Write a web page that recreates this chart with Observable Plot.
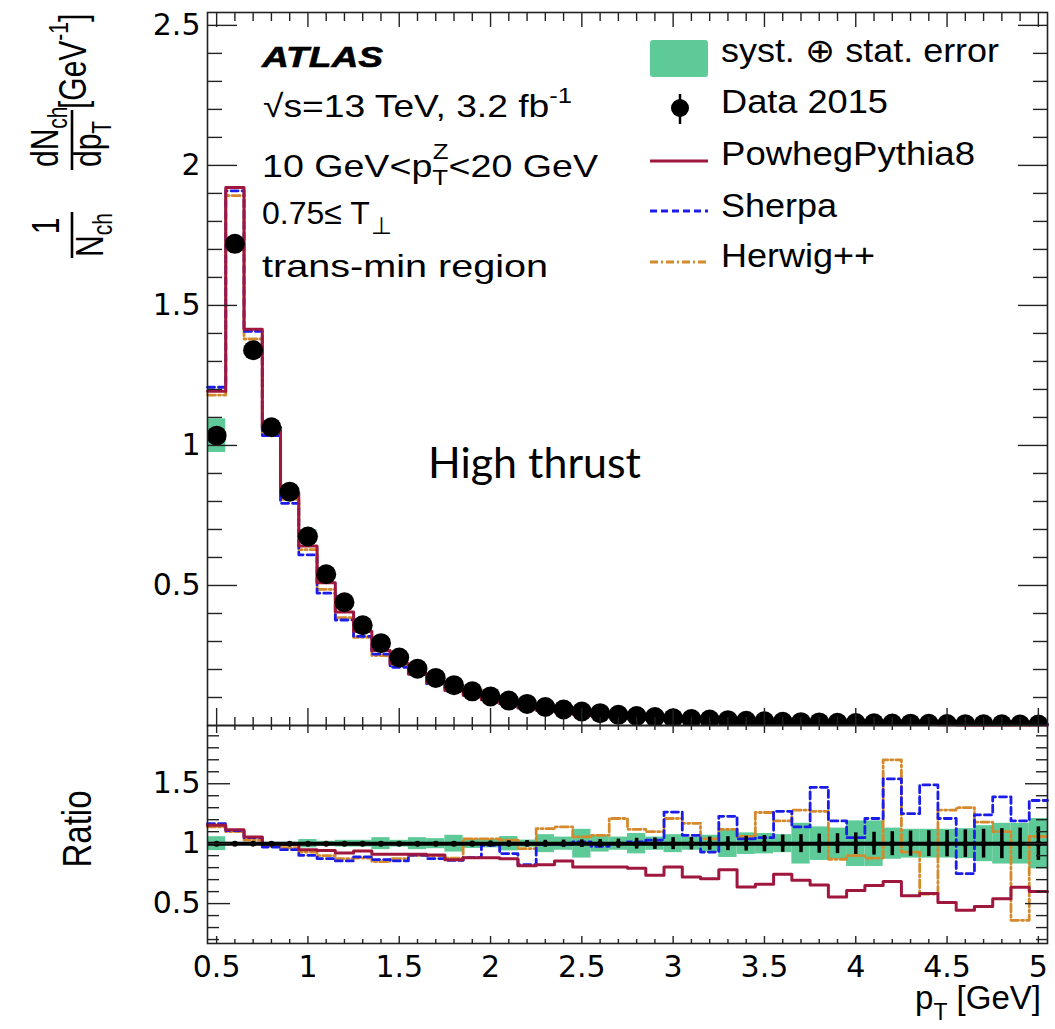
<!DOCTYPE html>
<html><head><meta charset="utf-8">
<script src="https://cdn.jsdelivr.net/npm/d3@7"></script>
<script src="https://cdn.jsdelivr.net/npm/@observablehq/plot@0.6"></script>
<style>
body{margin:0;background:#fff;}
#wrap{position:relative;width:1055px;height:1029px;overflow:hidden;background:#fff}
#wrap > svg{position:absolute;left:0}
</style></head><body><div id="wrap"></div>
<script>
// ---- data (bin centres in GeV, bins are 0.1 GeV wide) ----
const pT = [0.5,0.6,0.7,0.8,0.9,1.0,1.1,1.2,1.3,1.4,1.5,1.6,1.7,1.8,1.9,2.0,2.1,2.2,2.3,2.4,2.5,2.6,2.7,2.8,2.9,3.0,3.1,3.2,3.3,3.4,3.5,3.6,3.7,3.8,3.9,4.0,4.1,4.2,4.3,4.4,4.5,4.6,4.7,4.8,4.9,5.0];
const data2015 = [1.035,1.72,1.34,1.065,0.835,0.675,0.54,0.44,0.358,0.294,0.243,0.203,0.170,0.144,0.122,0.104,0.089,0.077,0.066,0.057,0.050,0.044,0.038,0.034,0.030,0.026,0.023,0.021,0.019,0.017,0.015,0.0135,0.012,0.011,0.0098,0.0088,0.0080,0.0072,0.0065,0.0059,0.0054,0.0049,0.0045,0.0041,0.0037,0.0034];
const dataStatRel = [0.003,0.003,0.003,0.003,0.004,0.004,0.005,0.006,0.007,0.008,0.010,0.012,0.015,0.018,0.020,0.022,0.024,0.026,0.028,0.030,0.032,0.034,0.038,0.045,0.048,0.050,0.052,0.055,0.058,0.062,0.068,0.072,0.075,0.080,0.083,0.090,0.095,0.100,0.105,0.108,0.110,0.115,0.120,0.125,0.130,0.140];
const systStatRel = [0.058,0.012,0.012,0.012,0.012,0.035,0.02,0.028,0.028,0.05,0.028,0.05,0.042,0.07,0.04,0.035,0.06,0.03,0.075,0.055,0.12,0.07,0.055,0.085,0.055,0.075,0.055,0.07,0.115,0.09,0.085,0.075,0.17,0.14,0.13,0.19,0.19,0.13,0.12,0.12,0.12,0.125,0.15,0.17,0.17,0.21];
const ratioPowheg = [1.153,1.117,1.056,1.0,0.994,0.95,0.944,0.922,0.939,0.911,0.911,0.912,0.905,0.865,0.883,0.883,0.875,0.815,0.825,0.856,0.805,0.805,0.805,0.795,0.736,0.806,0.722,0.708,0.783,0.639,0.661,0.744,0.694,0.655,0.556,0.61,0.65,0.685,0.565,0.585,0.51,0.445,0.475,0.54,0.636,0.60];
const ratioSherpa = [1.167,1.11,1.05,0.972,0.95,0.903,0.875,0.856,0.889,0.867,0.856,0.905,0.875,0.86,0.883,0.986,0.917,0.825,0.994,0.994,1.014,0.978,1.0,1.014,1.03,1.264,1.07,0.93,1.228,1.04,1.05,1.27,1.14,1.47,1.19,1.05,1.21,1.54,1.25,1.49,1.21,0.75,1.24,1.39,1.19,1.36];
const ratioHerwig = [1.14,1.10,1.03,0.98,0.967,0.93,0.90,0.875,0.88,0.85,0.875,0.90,0.90,0.88,1.04,1.04,1.03,0.958,1.125,1.14,1.056,1.07,1.21,1.12,1.10,1.21,1.17,1.04,1.12,1.06,1.26,1.19,1.28,1.27,0.87,0.90,0.88,1.70,0.93,0.58,1.28,1.30,1.18,1.10,0.36,1.06];
const binHalf = 0.05;
// ---- ticks ----
const xMajor = [0.5,1,1.5,2,2.5,3,3.5,4,4.5,5];
const xMinor = [0.6,0.7,0.8,0.9,1.1,1.2,1.3,1.4,1.6,1.7,1.8,1.9,2.1,2.2,2.3,2.4,2.6,2.7,2.8,2.9,3.1,3.2,3.3,3.4,3.6,3.7,3.8,3.9,4.1,4.2,4.3,4.4,4.6,4.7,4.8,4.9];
const yMajorTop = [0.5,1,1.5,2,2.5];
const yMinorTop = [0.1,0.2,0.3,0.4,0.6,0.7,0.8,0.9,1.1,1.2,1.3,1.4,1.6,1.7,1.8,1.9,2.1,2.2,2.3,2.4];
const yMajorRatio = [0.5,1,1.5];
const yMinorRatio = [0.2,0.3,0.4,0.6,0.7,0.8,0.9,1.1,1.2,1.3,1.4,1.6,1.7,1.8,1.9];

const colPowheg = "#a0173d", colSherpa = "#1c1ce8", colHerwig = "#d4892c", colBand = "#5dca97";
const dashSherpa = "7,4", dashHerwig = "8,3,2,3";

const rows = pT.map((x, i) => ({x, lo: x - binHalf, hi: x + binHalf, d: data2015[i], stat: dataStatRel[i], band: systStatRel[i],
  pw: ratioPowheg[i], sh: ratioSherpa[i], hw: ratioHerwig[i]}));
const steps = (key, absolute) => rows.flatMap(r => {
  const v = absolute ? r.d * r[key] : r[key];
  return [{x: r.lo, y: v}, {x: r.hi, y: v}];
});

function inTicks(kind, anchor, values, len, sw = 1.4) {
  const fn = kind === "x" ? Plot.axisX : Plot.axisY;
  return fn(values, {anchor, tickSize: -len, tickFormat: () => "", label: null, stroke: "#222", strokeWidth: sw});
}
const xDomain = [0.45, 5.05];
const baseStyle = {fontFamily: "DejaVu Sans", fontSize: "30px", color: "black", background: "transparent", overflow: "visible"};

const topPlot = Plot.plot({
  width: 1055, height: 725, marginLeft: 207, marginRight: 8, marginTop: 12, marginBottom: 0,
  x: {domain: xDomain, label: null}, y: {domain: [0, 2.546], label: null},
  style: baseStyle,
  marks: [
    Plot.rect(rows, {x1: "lo", x2: "hi", y1: r => r.d * (1 - r.band), y2: r => r.d * (1 + r.band), fill: colBand, clip: true}),
    Plot.line(steps("hw", true), {x: "x", y: "y", stroke: colHerwig, strokeWidth: 2.8, strokeDasharray: dashHerwig}),
    Plot.line(steps("sh", true), {x: "x", y: "y", stroke: colSherpa, strokeWidth: 2.8, strokeDasharray: dashSherpa}),
    Plot.line(steps("pw", true), {x: "x", y: "y", stroke: colPowheg, strokeWidth: 3}),
    Plot.ruleX(rows, {x: "x", y1: r => r.d * (1 - r.stat), y2: r => r.d * (1 + r.stat), stroke: "black", strokeWidth: 2, clip: true}),
    Plot.dot(rows, {x: "x", y: "d", r: 10, fill: "black", clip: true}),
    Plot.frame({stroke: "#222", strokeWidth: 1.6}),
    Plot.axisY(yMajorTop, {anchor: "left", tickSize: 0, tickPadding: 7, tickFormat: d => String(d), label: null}),
    inTicks("y", "left", yMajorTop, 30), inTicks("y", "left", yMinorTop, 15),
    inTicks("y", "right", yMajorTop, 30), inTicks("y", "right", yMinorTop, 15),
    inTicks("x", "bottom", xMajor, 17), inTicks("x", "bottom", xMinor, 8),
    inTicks("x", "top", xMajor, 14), inTicks("x", "top", xMinor, 8)
  ]
});
topPlot.style.top = "0px";

const ratioPlot = Plot.plot({
  width: 1055, height: 304, marginLeft: 207, marginRight: 8, marginTop: 0, marginBottom: 86,
  x: {domain: xDomain, label: null}, y: {domain: [0.167, 1.986], label: null},
  style: baseStyle,
  marks: [
    Plot.rect(rows, {x1: "lo", x2: "hi", y1: r => 1 - r.band, y2: r => 1 + r.band, fill: colBand}),
    Plot.line(steps("hw", false), {x: "x", y: "y", stroke: colHerwig, strokeWidth: 2.8, strokeDasharray: dashHerwig}),
    Plot.line(steps("sh", false), {x: "x", y: "y", stroke: colSherpa, strokeWidth: 2.8, strokeDasharray: dashSherpa}),
    Plot.line(steps("pw", false), {x: "x", y: "y", stroke: colPowheg, strokeWidth: 3}),
    Plot.ruleY([1], {stroke: "black", strokeWidth: 4}),
    Plot.ruleX(rows, {x: "x", y1: r => 1 - r.stat, y2: r => 1 + r.stat, stroke: "black", strokeWidth: 3.5}),
    Plot.dot(rows, {x: "x", y: () => 1, r: 3, fill: "black"}),
    Plot.frame({stroke: "#222", strokeWidth: 1.6}),
    Plot.axisY(yMajorRatio, {anchor: "left", tickSize: 0, tickPadding: 7, tickFormat: d => String(d), label: null}),
    Plot.axisX(xMajor, {anchor: "bottom", tickSize: 0, tickPadding: 12, tickFormat: d => String(d), label: null}),
    inTicks("y", "left", yMajorRatio, 23), inTicks("y", "left", yMinorRatio, 12),
    inTicks("y", "right", yMajorRatio, 23), inTicks("y", "right", yMinorRatio, 12),
    inTicks("x", "bottom", xMajor, 7), inTicks("x", "bottom", xMinor, 4),
    inTicks("x", "top", xMajor, 7), inTicks("x", "top", xMinor, 4)
  ]
});
ratioPlot.style.top = "725px";

const wrap = document.getElementById("wrap");
wrap.appendChild(topPlot);
wrap.appendChild(ratioPlot);

// ---- annotation / legend overlay ----
const ov = `
<svg xmlns="http://www.w3.org/2000/svg" width="1055" height="1029" style="top:0;pointer-events:none" font-family="Liberation Sans, Arial, sans-serif" fill="black">
  <text x="262" y="67" font-size="30" font-weight="bold" font-style="italic" stroke="black" stroke-width="0.6" textLength="121" lengthAdjust="spacingAndGlyphs">ATLAS</text>
  <text x="263" y="117" font-size="32" textLength="309" lengthAdjust="spacingAndGlyphs">√s=13 TeV, 3.2 fb<tspan font-size="22" dy="-14">-1</tspan></text>
  <text x="262" y="177" font-size="32" textLength="336" lengthAdjust="spacingAndGlyphs">10 GeV&lt;p<tspan font-size="22" dy="8">T</tspan><tspan font-size="22" dx="-13" dy="-26">Z</tspan><tspan dy="18">&lt;20 GeV</tspan></text>
  <text x="262" y="224" font-size="32">0.75≤ T</text>
  <text x="371" y="234" font-size="24">⊥</text>
  <text x="262" y="277" font-size="32" textLength="286" lengthAdjust="spacingAndGlyphs">trans-min region</text>

  <rect x="650" y="40" width="58" height="37" rx="3" fill="${colBand}"/>
  <text x="721" y="62" font-size="33" textLength="278" lengthAdjust="spacingAndGlyphs">syst. ⊕ stat. error</text>
  <line x1="680" x2="680" y1="94" y2="124" stroke="black" stroke-width="2.5"/>
  <circle cx="680" cy="108" r="9" fill="black"/>
  <text x="721" y="113" font-size="33" textLength="167" lengthAdjust="spacingAndGlyphs">Data 2015</text>
  <line x1="650" x2="708" y1="161" y2="161" stroke="${colPowheg}" stroke-width="3"/>
  <text x="721" y="165" font-size="33" textLength="254" lengthAdjust="spacingAndGlyphs">PowhegPythia8</text>
  <line x1="650" x2="708" y1="211" y2="211" stroke="${colSherpa}" stroke-width="2.8" stroke-dasharray="${dashSherpa}"/>
  <text x="721" y="217" font-size="33" textLength="116" lengthAdjust="spacingAndGlyphs">Sherpa</text>
  <line x1="650" x2="708" y1="262" y2="262" stroke="${colHerwig}" stroke-width="2.8" stroke-dasharray="${dashHerwig}"/>
  <text x="721" y="267" font-size="33" textLength="154" lengthAdjust="spacingAndGlyphs">Herwig++</text>

  <text x="428" y="478" font-size="42" font-family="Lato, 'Open Sans', sans-serif" textLength="213" lengthAdjust="spacingAndGlyphs">High thrust</text>

  <g transform="translate(72,262) scale(1.3,1) rotate(-90)" font-size="30">
    <text x="36" y="-10" text-anchor="middle">1</text>
    <line x1="4" x2="50" y1="0" y2="0" stroke="black" stroke-width="2"/>
    <text x="5" y="24">N<tspan font-size="21" dy="7">ch</tspan></text>
    <text x="95" y="-11">dN<tspan font-size="21" dy="7">ch</tspan></text>
    <line x1="92" x2="152" y1="0" y2="0" stroke="black" stroke-width="2"/>
    <text x="95" y="22">dp<tspan font-size="21" dy="8">T</tspan></text>
    <text x="153" y="11">[GeV<tspan font-size="21" dy="-14">-1</tspan><tspan dy="14">]</tspan></text>
  </g>
  <text transform="translate(91,829) scale(1.25,1) rotate(-90)" text-anchor="middle" font-size="33">Ratio</text>
  <text x="1041" y="1009" font-size="33" text-anchor="end">p<tspan font-size="23" dy="11">T</tspan><tspan dy="-11"> [GeV]</tspan></text>
</svg>`;
wrap.insertAdjacentHTML("beforeend", ov);
</script>
</body></html>
